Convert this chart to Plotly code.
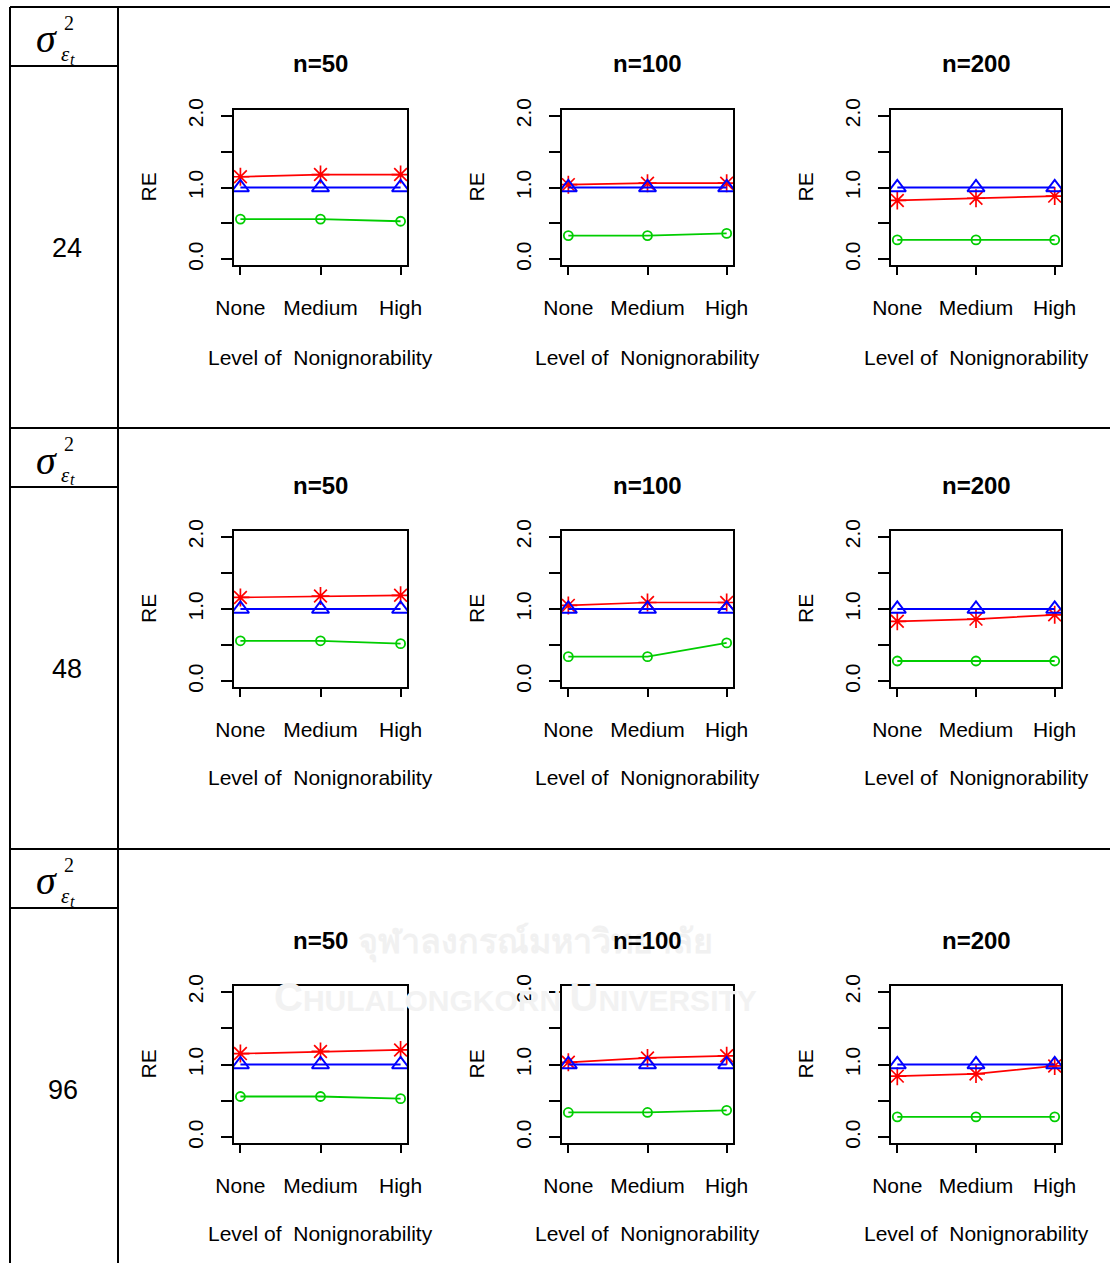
import plotly.graph_objects as go

# ---- data -----------------------------------------------------------------
levels = ["None", "Medium", "High"]
level_pos = [1, 2, 3]
sample_sizes = ["n=50", "n=100", "n=200"]
sigma_values = ["24", "48", "96"]

# relative efficiency, one list per (sigma, n): rows = sigma, cols = n
re_red = [
    [[1.15, 1.18, 1.18], [1.04, 1.06, 1.06], [0.82, 0.85, 0.88]],
    [[1.16, 1.18, 1.19], [1.05, 1.09, 1.09], [0.83, 0.86, 0.92]],
    [[1.15, 1.18, 1.20], [1.03, 1.09, 1.12], [0.84, 0.87, 0.98]],
]
re_blue = [
    [[1.0, 1.0, 1.0], [1.0, 1.0, 1.0], [1.0, 1.0, 1.0]],
    [[1.0, 1.0, 1.0], [1.0, 1.0, 1.0], [1.0, 1.0, 1.0]],
    [[1.0, 1.0, 1.0], [1.0, 1.0, 1.0], [1.0, 1.0, 1.0]],
]
re_green = [
    [[0.56, 0.56, 0.53], [0.33, 0.33, 0.36], [0.27, 0.27, 0.27]],
    [[0.56, 0.56, 0.52], [0.34, 0.34, 0.53], [0.28, 0.28, 0.28]],
    [[0.56, 0.56, 0.53], [0.34, 0.34, 0.37], [0.28, 0.28, 0.28]],
]
y_ticks = [0, 0.5, 1.0, 1.5, 2.0]
y_ticktext = ["0.0", "", "1.0", "", "2.0"]

# ---- page geometry (pixels) ----------------------------------------------
W, H = 1110, 1263
col_box = [(234, 407), (562, 733), (891, 1061)]
row_box = [(110, 265), (531, 687), (986, 1143)]
row_title_y = [64, 485, 940]
row_xlab_y = [357, 777, 1233]
row_top = [7, 428, 849]
row_value_y = [248, 669, 1090]
row_value_x = [67, 67, 63]

FONT = "Liberation Sans"


def fx(x):
    return x / W


def fy(y):
    return 1 - y / H


fig = go.Figure()
annotations = []
shapes = []

# faint university watermark text, drawn first so it sits behind the rest
annotations.append(dict(
    x=fx(535), y=fy(940), xref="paper", yref="paper",
    text="<b>จุฬาลงกรณ์มหาวิทยาลัย</b>", showarrow=False,
    xanchor="center", yanchor="middle",
    font=dict(family="Noto Sans, DejaVu Sans", size=34, color="#f1f1f1"),
))
annotations.append(dict(
    x=fx(515), y=fy(997), xref="paper", yref="paper",
    text=("<b><span style='font-size:40px'>C</span>HULALONGKORN "
          "<span style='font-size:40px'>U</span>NIVERSITY</b>"),
    showarrow=False, xanchor="center", yanchor="middle",
    font=dict(family="Liberation Sans Narrow, Liberation Sans", size=30, color="#f2f2f2"),
))

series = [
    (re_red, "#FF0000", "asterisk-open", 15, 1.7),
    (re_blue, "#0000FF", "triangle-up-open", 15, 2.0),
    (re_green, "#00CD00", "circle-open", 9, 1.8),
]

k = 0
for r in range(3):
    for c in range(3):
        k += 1
        xa = "x" if k == 1 else f"x{k}"
        ya = "y" if k == 1 else f"y{k}"
        for data, color, sym, size, lw in series:
            fig.add_trace(go.Scatter(
                x=level_pos, y=data[r][c], xaxis=xa, yaxis=ya,
                mode="lines+markers",
                line=dict(color=color, width=lw),
                marker=dict(symbol=sym, size=size, color=color,
                            line=dict(color=color, width=lw)),
                showlegend=False, hoverinfo="skip",
            ))
        x0, x1 = col_box[c]
        y0, y1 = row_box[r]
        fig.layout[f"xaxis{'' if k == 1 else k}"] = dict(
            domain=[fx(x0), fx(x1)], anchor=ya, range=[0.92, 3.08],
            tickmode="array", tickvals=level_pos, ticktext=levels,
            ticks="outside", ticklen=8, tickwidth=1.5, tickcolor="black",
            ticklabelstandoff=15, automargin=False,
            showline=True, linecolor="black", linewidth=2, mirror=True,
            showgrid=False, zeroline=False, fixedrange=True,
            tickfont=dict(family=FONT, size=21, color="black"),
        )
        fig.layout[f"yaxis{'' if k == 1 else k}"] = dict(
            domain=[fy(y1), fy(y0)], anchor=xa, range=[-0.08, 2.08],
            tickmode="array", tickvals=y_ticks, ticktext=y_ticktext,
            tickangle=-90, automargin=False,
            ticks="outside", ticklen=11, tickwidth=1.5, tickcolor="black",
            ticklabelstandoff=10,
            showline=True, linecolor="black", linewidth=2, mirror=True,
            showgrid=False, zeroline=False, fixedrange=True,
            tickfont=dict(family=FONT, size=21, color="black"),
        )
        # panel title
        annotations.append(dict(
            x=fx((x0 + x1) / 2), y=fy(row_title_y[r]), xref="paper", yref="paper",
            text=f"<b>{sample_sizes[c]}</b>", showarrow=False,
            xanchor="center", yanchor="middle",
            font=dict(family=FONT, size=24, color="black"),
        ))
        # y-axis title
        annotations.append(dict(
            x=fx(x0 - 86), y=fy((y0 + y1) / 2), xref="paper", yref="paper",
            text="RE", textangle=-90, showarrow=False,
            xanchor="center", yanchor="middle",
            font=dict(family=FONT, size=21, color="black"),
        ))
        # x-axis title
        annotations.append(dict(
            x=fx((x0 + x1) / 2), y=fy(row_xlab_y[r]), xref="paper", yref="paper",
            text="Level of  Nonignorability", showarrow=False,
            xanchor="center", yanchor="middle",
            font=dict(family=FONT, size=21, color="black"),
        ))

# ---- table frame ----------------------------------------------------------
line = dict(color="black", width=2)
shapes.append(dict(type="line", xref="paper", yref="paper",
                   x0=fx(10), x1=fx(10), y0=fy(row_top[0]), y1=fy(H), line=line))
shapes.append(dict(type="line", xref="paper", yref="paper",
                   x0=fx(118), x1=fx(118), y0=fy(row_top[0]), y1=fy(H), line=line))
for r in range(3):
    top = row_top[r]
    shapes.append(dict(type="line", xref="paper", yref="paper",
                       x0=fx(10), x1=1, y0=fy(top), y1=fy(top), line=line))
    shapes.append(dict(type="line", xref="paper", yref="paper",
                       x0=fx(10), x1=fx(118), y0=fy(top + 59), y1=fy(top + 59), line=line))
    # sigma^2 with subscript epsilon_t
    annotations.append(dict(
        x=fx(46), y=fy(top + 32), xref="paper", yref="paper",
        text="<i>σ</i>", showarrow=False, xanchor="center", yanchor="middle",
        font=dict(family="Liberation Serif", size=40, color="black"),
    ))
    annotations.append(dict(
        x=fx(69), y=fy(top + 16), xref="paper", yref="paper",
        text="2", showarrow=False, xanchor="center", yanchor="middle",
        font=dict(family="Liberation Serif", size=20, color="black"),
    ))
    annotations.append(dict(
        x=fx(65), y=fy(top + 47), xref="paper", yref="paper",
        text="<i>ε</i>", showarrow=False, xanchor="center", yanchor="middle",
        font=dict(family="Liberation Serif", size=21, color="black"),
    ))
    annotations.append(dict(
        x=fx(72), y=fy(top + 52), xref="paper", yref="paper",
        text="<i>t</i>", showarrow=False, xanchor="center", yanchor="middle",
        font=dict(family="Liberation Serif", size=16, color="black"),
    ))
    annotations.append(dict(
        x=fx(row_value_x[r]), y=fy(row_value_y[r]), xref="paper", yref="paper",
        text=sigma_values[r], showarrow=False, xanchor="center", yanchor="middle",
        font=dict(family=FONT, size=27, color="black"),
    ))

fig.update_layout(
    width=W, height=H,
    margin=dict(l=0, r=0, t=0, b=0, pad=0, autoexpand=False),
    paper_bgcolor="white", plot_bgcolor="rgba(0,0,0,0)",
    showlegend=False,
    annotations=annotations, shapes=shapes,
)

fig.write_html("out.html")
